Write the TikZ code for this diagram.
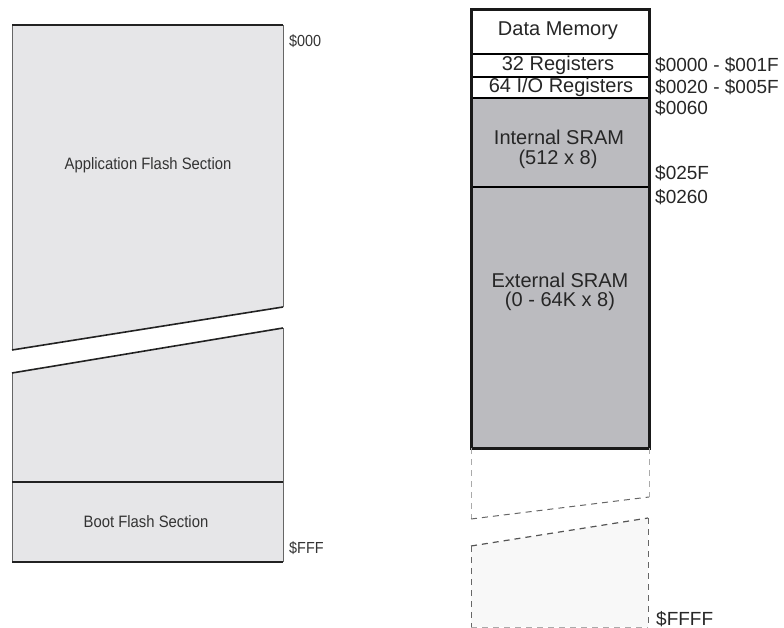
\documentclass[tikz,border=0pt]{standalone}
\usepackage{fontspec}
\setmainfont{Liberation Sans}
\newfontfamily\narrowfont[FakeStretch=0.9]{Liberation Sans}
\definecolor{flashfill}{HTML}{E6E6E8}
\definecolor{sramfill}{HTML}{BBBBBF}
\definecolor{darkline}{HTML}{222222}
\definecolor{sideline}{HTML}{666666}
\definecolor{lightdash}{HTML}{AAAAAA}
\definecolor{midDash}{HTML}{555555}
\definecolor{faintfill}{HTML}{F8F8F8}
\definecolor{lefttext}{HTML}{333333}
\tikzset{
  flashtxt/.style={font=\narrowfont\fontsize{16.5}{18}\selectfont, text=lefttext, inner sep=0pt},
  addrleft/.style={font=\narrowfont\fontsize{16}{18}\selectfont, text=lefttext, anchor=west, inner sep=0pt},
  boxtxt/.style={font=\fontsize{20}{22}\selectfont, text=black!85, inner sep=0pt, align=center},
  addrright/.style={font=\fontsize{19}{21}\selectfont, text=black!85, anchor=west, inner sep=0pt},
  sideln/.style={draw=sideline, line width=1pt},
  darkln/.style={draw=darkline, line width=1.6pt},
  dashln/.style={dash pattern=on 6pt off 5pt, line width=1pt},
}
\begin{document}
\begin{tikzpicture}[x=1pt,y=-1pt]
\useasboundingbox (0,0) rectangle (784,628);

% ---------- Left: Flash memory ----------
\coordinate (ftl) at (12,25);
\coordinate (ftr) at (283,25);
\coordinate (fbl1) at (12,350);
\coordinate (fbr1) at (283,307);
\coordinate (ftl2) at (12,373);
\coordinate (ftr2) at (283,328);
\coordinate (fdl) at (12,482);
\coordinate (fdr) at (283,482);
\coordinate (fbl) at (12,562);
\coordinate (fbr) at (283,562);

\fill[flashfill] (ftl) -- (ftr) -- (fbr1) -- (fbl1) -- cycle;
\fill[flashfill] (ftl2) -- (ftr2) -- (fbr) -- (fbl) -- cycle;
\draw[sideln] (ftl) -- (fbl1);
\draw[sideln] (ftr) -- (fbr1);
\draw[sideln] (ftl2) -- (fbl);
\draw[sideln] (ftr2) -- (fbr);
\draw[darkln, line width=2.2pt] (ftl) -- (ftr);
\draw[darkln] (fbl1) -- (fbr1);
\draw[darkln] (ftl2) -- (ftr2);
\draw[darkln, line width=2pt] (fdl) -- (fdr);
\draw[darkln, line width=2.2pt] (fbl) -- (fbr);

\node[flashtxt] (app) at (148,165) {Application Flash Section};
\node[flashtxt] (boot) at (146,522) {Boot Flash Section};
\node[addrleft] (a000) at (289,41) {\$000};
\node[addrleft] (afff) at (289,548) {\$FFF};

% ---------- Right: Data memory ----------
\coordinate (dtl) at (471,10);
\coordinate (dtr) at (649,10);
\coordinate (dbl) at (471,448);
\coordinate (dbr) at (649,448);

\fill[white] (471,10) rectangle (649,98);
\fill[sramfill] (471,98) rectangle (649,448);
\draw[black, line width=1.5pt] (471,54) -- (649,54);
\draw[black, line width=1.2pt] (471,77) -- (649,77);
\draw[black, line width=1.5pt] (471,98) -- (649,98);
\draw[black, line width=1.5pt] (471,187) -- (649,187);
\draw[black!90, line width=3pt] (dtl) rectangle (dbr);

\node[boxtxt] (dm) at (558,31) {Data Memory};
\node[boxtxt] (r32) at (558,65) {32 Registers};
\node[boxtxt] (r64) at (561,87) {64 I/O Registers};
\node[boxtxt] (isram) at (559,137) {Internal SRAM};
\node[boxtxt] (isz) at (558,159) {(512 x 8)};
\node[boxtxt] (esram) at (560,280) {External SRAM};
\node[boxtxt] (esz) at (560,301) {(0 - 64K x 8)};

\node[addrright] (l1) at (655,65) {\$0000 - \$001F};
\node[addrright] (l2) at (655,87) {\$0020 - \$005F};
\node[addrright] (l3) at (655,108) {\$0060};
\node[addrright] (l4) at (655,173) {\$025F};
\node[addrright] (l5) at (655,197) {\$0260};
\node[addrright] (l6) at (656,619) {\$FFFF};

% ---------- dashed continuation ----------
\coordinate (ubl) at (471,519);
\coordinate (ubr) at (649,497);
\coordinate (ltl) at (471,546);
\coordinate (ltr) at (648,518);
\coordinate (lbl) at (471,627);
\coordinate (lbr) at (648,627);

\draw[dashln, draw=lightdash] (dbl) -- (ubl);
\draw[dashln, draw=lightdash] (dbr) -- (ubr);
\draw[dashln, draw=sideline] (ubl) -- (ubr);

\fill[faintfill] (ltl) -- (ltr) -- (lbr) -- (lbl) -- cycle;
\draw[dashln, draw=midDash, line width=1.2pt] (ltl) -- (ltr);
\draw[dashln, draw=sideline] (ltl) -- (lbl);
\draw[dashln, draw=sideline] (ltr) -- (lbr);
\draw[dashln, draw=lightdash] (lbl) -- (lbr);
\end{tikzpicture}
\end{document}
